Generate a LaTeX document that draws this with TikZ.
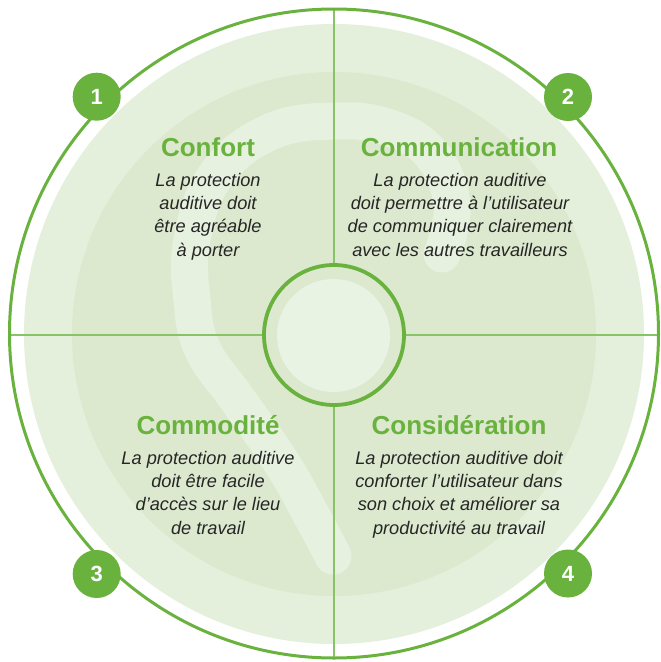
\documentclass[tikz,border=0pt]{standalone}
\usepackage{fontspec}
\setmainfont{Liberation Sans}
\definecolor{ringgreen}{HTML}{6AB23E}
\definecolor{linegreen}{HTML}{86C466}
\definecolor{bandout}{HTML}{E4F0DB}
\definecolor{bandin}{HTML}{DCE9CF}
\definecolor{earlight}{HTML}{E7F1E0}
\definecolor{hublight}{HTML}{E9F3E3}
\definecolor{bodytext}{HTML}{262626}
\tikzset{
  numcircle/.style={circle, fill=ringgreen, minimum size=48pt, inner sep=0pt,
    text=white, font=\fontsize{22}{24}\selectfont\bfseries},
  titletext/.style={anchor=base, inner sep=0pt, text=ringgreen,
    font=\fontsize{26}{28}\selectfont\bfseries},
  bodyblock/.style={anchor=north, inner sep=0pt, align=center, text=bodytext,
    font=\fontsize{18.2}{23.3}\selectfont\itshape},
  divider/.style={draw=linegreen, line width=1.6pt},
}
\begin{document}
\begin{tikzpicture}[x=1pt,y=-1pt]
\useasboundingbox (0,0) rectangle (661,662);
\fill[white] (0,0) rectangle (661,662);
% background discs
\fill[bandout] (334,334) circle[radius=310pt];
\fill[bandin] (334,334) circle[radius=262pt];
% ear watermark
\begin{scope}
\clip (334,334) circle[radius=310pt];
\draw[earlight, line width=37pt, line cap=round]
  plot[smooth, tension=0.7] coordinates {(442,254) (452,205) (432,155) (390,128) (335,121) (270,132) (216,175) (192,240) (192,300) (203,350) (238,400) (283,465) (315,522) (333,556)};
\end{scope}
% dividers
\coordinate (ctop) at (334,9);
\coordinate (cbot) at (334,659);
\coordinate (cleft) at (10,335);
\coordinate (cright) at (658,335);
\draw[divider] (ctop) -- (cbot);
\draw[divider] (cleft) -- (cright);
% outer ring
\draw[ringgreen, line width=3pt] (334,333.5) circle[radius=324.5pt];
% hub
\node (hub) [circle, fill=bandin, draw=ringgreen, line width=3.8pt, minimum size=140pt, inner sep=0pt] at (334,335) {};
\node (hubcore) [circle, fill=hublight, minimum size=113pt, inner sep=0pt] at (333.5,335.5) {};
% numbers
\node (n1) [numcircle] at (96.7,96.7) {1};
\node (n2) [numcircle] at (568,97) {2};
\node (n3) [numcircle] at (96.7,574) {3};
\node (n4) [numcircle] at (568,573.5) {4};
% titles
\node (t1) [titletext] at (208,156) {Confort};
\node (t2) [titletext] at (459,156) {Communication};
\node (t3) [titletext] at (208,434) {Commodité};
\node (t4) [titletext] at (459,434) {Considération};
% bodies
\node (b1) [bodyblock] at (208,169.7) {\strut La protection\\auditive doit\\être agréable\\à porter};
\node (b2) [bodyblock] at (460,169.7) {\strut La protection auditive\\doit permettre à l’utilisateur\\de communiquer clairement\\avec les autres travailleurs};
\node (b3) [bodyblock] at (208,447.7) {\strut La protection auditive\\doit être facile\\d’accès sur le lieu\\de travail};
\node (b4) [bodyblock] at (459,447.7) {\strut La protection auditive doit\\conforter l’utilisateur dans\\son choix et améliorer sa\\productivité au travail};
\end{tikzpicture}
\end{document}
